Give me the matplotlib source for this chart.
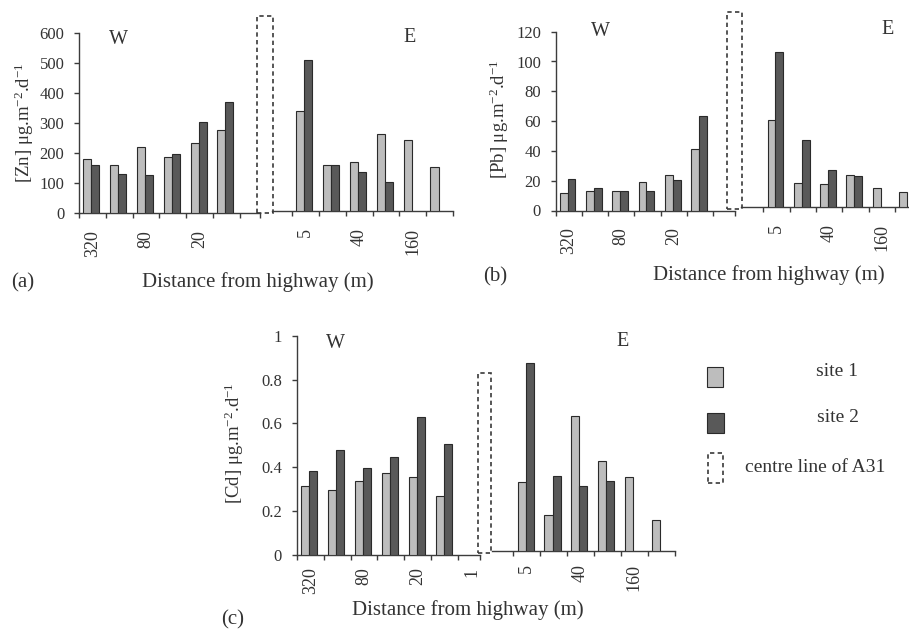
import numpy as np
import matplotlib
matplotlib.use("Agg")
import matplotlib.pyplot as plt
from matplotlib.patches import Rectangle

plt.rcParams['font.family'] = ['Liberation Serif', 'DejaVu Serif']
plt.rcParams['mathtext.fontset'] = 'custom'
plt.rcParams['mathtext.rm'] = 'Liberation Serif'
plt.rcParams['mathtext.it'] = 'Liberation Serif:italic'

# ---------------- data ----------------
west_positions = list(range(7))          # 320,160,80,40,20,10,1 m (west side)
east_positions = list(range(7, 14))      # 1,5,10,40,80,160,320 m (east side)
west_ticklabels_ab = ["320", "", "80", "", "20", "", ""]
west_ticklabels_c = ["320", "", "80", "", "20", "", "1"]
east_ticklabels = ["", "5", "", "40", "", "160", ""]

nan = np.nan
zn_site1_w = [182, 162, 222, 187, 236, 279, nan]
zn_site2_w = [161, 131, 126, 197, 304, 370, nan]
zn_site1_e = [nan, 334, 154, 164, 256, 237, 148]
zn_site2_e = [nan, 503, 154, 129, 98, nan, nan]

pb_site1_w = [11.6, 13.0, 13.2, 19.4, 23.9, 41.3, nan]
pb_site2_w = [21.0, 15.0, 13.2, 13.4, 20.6, 63.7, nan]
pb_site1_e = [nan, 58.5, 16.5, 15.6, 21.9, 13.2, 10.5]
pb_site2_e = [nan, 104.1, 45.1, 25.0, 21.2, nan, nan]

cd_site1_w = [0.313, 0.296, 0.337, 0.373, 0.355, 0.267, nan]
cd_site2_w = [0.384, 0.481, 0.395, 0.445, 0.627, 0.508, nan]
cd_site1_e = [nan, 0.314, 0.167, 0.616, 0.410, 0.338, 0.141]
cd_site2_e = [nan, 0.857, 0.344, 0.299, 0.322, nan, nan]

zn_yticks = [0, 100, 200, 300, 400, 500, 600]
pb_yticks = [0, 20, 40, 60, 80, 100, 120]
cd_yticks = [0, 0.2, 0.4, 0.6, 0.8, 1.0]
cd_yticklabels = ["0", "0.2", "0.4", "0.6", "0.8", "1"]

# ---------------- style ----------------
W, H = 909, 629
TXT = '#333333'
SPINE = '#3c3c3c'
C1 = '#bdbdbd'
C2 = '#595959'
EDGE = '#2a2a2a'
BW = 0.3

fig = plt.figure(figsize=(W / 100, H / 100), dpi=100)


def add_ax(l, r, top, bottom):
    return fig.add_axes([l / W, 1 - bottom / H, (r - l) / W, (bottom - top) / H])


def bars(ax, pos, s1, s2):
    pos = np.asarray(pos, float)
    s1 = np.asarray(s1, float)
    s2 = np.asarray(s2, float)
    m1 = ~np.isnan(s1)
    m2 = ~np.isnan(s2)
    ax.bar(pos[m1] - 0.19, s1[m1], width=BW, color=C1, edgecolor=EDGE, linewidth=0.8, zorder=3)
    ax.bar(pos[m2] + 0.11, s2[m2], width=BW, color=C2, edgecolor=EDGE, linewidth=0.8, zorder=3)


def style_common(ax, xlim, ylim, pad):
    ax.set_xlim(*xlim)
    ax.set_ylim(*ylim)
    for s in ['top', 'right']:
        ax.spines[s].set_visible(False)
    ax.spines['bottom'].set_color(SPINE)
    ax.spines['left'].set_color(SPINE)
    ax.spines['bottom'].set_linewidth(1.0)
    ax.spines['left'].set_linewidth(1.0)
    ax.patch.set_alpha(0)
    ax.tick_params(axis='x', which='major', length=3.5, width=1.0, color=SPINE, direction='out')
    ax.tick_params(axis='x', which='minor', length=0, pad=pad, labelsize=13, labelcolor=TXT)


def make_panel(west_px, east_px, xlim_w, xlim_e, ylim, yticks, yticklabels,
               s1w, s2w, s1e, s2e, wlabels, pad):
    axw = add_ax(*west_px)
    axe = add_ax(*east_px)
    bars(axw, west_positions, s1w, s2w)
    bars(axe, east_positions, s1e, s2e)
    style_common(axw, xlim_w, ylim, pad)
    style_common(axe, xlim_e, ylim, pad)
    # west
    axw.set_xticks([-0.5] + [i + 0.5 for i in range(6)] + [xlim_w[1]])
    axw.set_xticklabels([])
    axw.set_xticks(west_positions, minor=True)
    axw.set_xticklabels(wlabels, minor=True, rotation=90)
    axw.set_yticks(yticks)
    axw.set_yticklabels(yticklabels)
    axw.tick_params(axis='y', length=3.5, width=1.0, color=SPINE, pad=7,
                    labelsize=12, labelcolor=TXT)
    # east
    axe.spines['left'].set_visible(False)
    axe.set_yticks([])
    et = [p + 0.5 for p in east_positions[:-1]] + [13.5]
    axe.set_xticks([t for t in et if t <= xlim_e[1] + 1e-9])
    axe.set_xticklabels([])
    axe.set_xticks(east_positions, minor=True)
    axe.set_xticklabels(east_ticklabels, minor=True, rotation=90)
    return axw, axe


def fig_rect(l, r, top, bottom, **kw):
    fig.patches.append(Rectangle((l / W, 1 - bottom / H), (r - l) / W, (bottom - top) / H,
                                 transform=fig.transFigure, figure=fig, **kw))


def ftext(x, y, s, **kw):
    fig.text(x / W, 1 - y / H, s, color=TXT, **kw)


DASH = dict(fill=False, edgecolor='#3a3a3a', linewidth=1.2, linestyle=(0, (2.6, 2.0)))

# ---------------- panel (a) Zn ----------------
make_panel((79, 260, 33.3, 213.3), (272, 453, 31.0, 211.0),
           (-0.5, 6.25), (6.75, 13.5), (0, 600), zn_yticks, [str(v) for v in zn_yticks],
           zn_site1_w, zn_site2_w, zn_site1_e, zn_site2_e, west_ticklabels_ab, 12)
fig_rect(256.5, 272.5, 16, 213, **DASH)
ftext(24, 123, r"[Zn] μg.m$^{\mathregular{-2}}$.d$^{\mathregular{-1}}$", rotation=90,
      ha='center', va='center', fontsize=13.5)
ftext(118, 40, "W", ha='center', va='center', fontsize=14.5)
ftext(410, 37, "E", ha='center', va='center', fontsize=14.5)
ftext(258, 282, "Distance from highway (m)", ha='center', va='center', fontsize=15)
ftext(23, 283, "(a)", ha='center', va='center', fontsize=15)

# ---------------- panel (b) Pb ----------------
make_panel((555.5, 735, 31.7, 210.5), (741, 909, 28.8, 207.3),
           (-0.5, 6.33), (6.65, 13.04), (0, 120), pb_yticks, [str(v) for v in pb_yticks],
           pb_site1_w, pb_site2_w, pb_site1_e, pb_site2_e, west_ticklabels_ab, 12)
fig_rect(727, 742, 11.7, 209, **DASH)
ftext(499, 119, r"[Pb] μg.m$^{\mathregular{-2}}$.d$^{\mathregular{-1}}$", rotation=90,
      ha='center', va='center', fontsize=13.5)
ftext(600, 32, "W", ha='center', va='center', fontsize=14.5)
ftext(888, 30, "E", ha='center', va='center', fontsize=14.5)
ftext(769, 275, "Distance from highway (m)", ha='center', va='center', fontsize=15)
ftext(495, 277, "(b)", ha='center', va='center', fontsize=15)

# ---------------- panel (c) Cd ----------------
make_panel((296.7, 480, 335.7, 555.0), (492, 674.6, 332.0, 551.3),
           (-0.5, 6.31), (6.71, 13.5), (0, 1.0), cd_yticks, cd_yticklabels,
           cd_site1_w, cd_site2_w, cd_site1_e, cd_site2_e, west_ticklabels_c, 9)
fig_rect(478, 491, 373, 553, **DASH)
ftext(234, 443, r"[Cd] μg.m$^{\mathregular{-2}}$.d$^{\mathregular{-1}}$", rotation=90,
      ha='center', va='center', fontsize=13.5)
ftext(335, 343, "W", ha='center', va='center', fontsize=14.5)
ftext(623, 342, "E", ha='center', va='center', fontsize=14.5)
ftext(468, 610, "Distance from highway (m)", ha='center', va='center', fontsize=15)
ftext(233, 620, "(c)", ha='center', va='center', fontsize=15)

# ---------------- legend ----------------
fig_rect(707, 723, 367, 387, facecolor=C1, edgecolor=EDGE, linewidth=0.8)
fig_rect(707, 724, 413, 433, facecolor=C2, edgecolor=EDGE, linewidth=0.8)
fig_rect(708, 723, 453, 483, **DASH)
ftext(837, 372, "site 1", ha='center', va='center', fontsize=14)
ftext(838, 418, "site 2", ha='center', va='center', fontsize=14)
ftext(745, 467, "centre line of A31", ha='left', va='center', fontsize=14)

fig.savefig("out.png", dpi=100)
